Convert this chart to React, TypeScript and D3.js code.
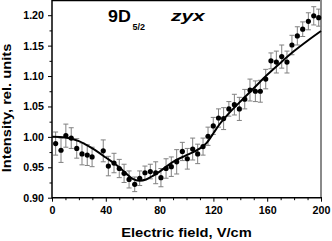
import React, { useEffect, useRef } from 'react';
import * as d3 from 'd3';

// measured points (electric field, V/cm)
const fieldValues = [
  2.7, 6.7, 10.3, 14.3, 18.4, 22.3, 26.2, 29.8, 38.1, 41.9,
  46.1, 50, 53.6, 57.3, 61.5, 65.2, 69.1, 73.1, 77.1, 81,
  84.8, 88.7, 92.7, 96.9, 100.6, 104.6, 108.3, 112.3, 116, 119.9,
  123.8, 127.6, 131.5, 135.6, 139.3, 143.3, 147.2, 151.2, 154.9, 158.9,
  162.8, 166.8, 170.8, 174.7, 178.4, 182.4, 186.4, 190.6, 194.6, 198.3,
];
const intensityValues = [
  0.989, 0.978, 1.002, 0.998, 0.981, 0.972, 0.970, 0.967, 0.977, 0.952,
  0.957, 0.948, 0.940, 0.930, 0.922, 0.932, 0.941, 0.943, 0.941, 0.933,
  0.948, 0.951, 0.959, 0.976, 0.964, 0.980, 0.972, 0.984, 1.001, 1.018,
  1.031, 1.030, 1.046, 1.053, 1.046, 1.062, 1.077, 1.075, 1.075, 1.095,
  1.125, 1.123, 1.132, 1.123, 1.151, 1.166, 1.177, 1.190, 1.199, 1.196,
];
const errorValues = [
  0.019, 0.020, 0.019, 0.017, 0.016, 0.018, 0.017, 0.016, 0.018, 0.016,
  0.016, 0.015, 0.015, 0.014, 0.012, 0.012, 0.011, 0.012, 0.018, 0.015,
  0.016, 0.016, 0.020, 0.015, 0.017, 0.018, 0.016, 0.014, 0.015, 0.014,
  0.015, 0.018, 0.012, 0.017, 0.019, 0.016, 0.018, 0.017, 0.018, 0.016,
  0.013, 0.018, 0.019, 0.018, 0.016, 0.015, 0.012, 0.014, 0.015, 0.014,
];

// theory curve
const curveField = [0, 10, 20, 30, 40, 50, 55, 60, 65, 70, 75, 80, 90, 100, 110, 115, 120, 125, 130, 140, 150, 160, 170, 180, 190, 200];
const curveIntensity = [
  1.000, 0.999, 0.993, 0.981, 0.966, 0.950, 0.940, 0.931, 0.928, 0.930,
  0.936, 0.943, 0.959, 0.970, 0.981, 0.990, 1.006, 1.022, 1.035, 1.058,
  1.080, 1.102, 1.122, 1.141, 1.158, 1.174,
];

const xMajorTicks = [0, 40, 80, 120, 160, 200];
const yMajorTicks = [0.90, 0.95, 1.00, 1.05, 1.10, 1.15, 1.20];

export default function App() {
  const ref = useRef<SVGSVGElement>(null);

  useEffect(() => {
    const svg = d3.select(ref.current);
    svg.selectAll('*').remove();

    const left = 52, right = 321, top = 0, bottom = 197.7;

    const x = d3.scaleLinear().domain([0, 200]).range([left, right]);
    const y = d3.scaleLinear().domain([0.90, 1.225]).range([bottom, top]);

    const font = '"Liberation Sans", Arial, sans-serif';

    // frame: top black, right gray
    svg.append('line')
      .attr('x1', left).attr('x2', right)
      .attr('y1', 0.5).attr('y2', 0.5)
      .attr('stroke', '#000').attr('stroke-width', 1.5);
    svg.append('line')
      .attr('x1', right).attr('x2', right)
      .attr('y1', 0).attr('y2', bottom)
      .attr('stroke', '#8a8a8a').attr('stroke-width', 2);

    // minor ticks
    const xMinor = d3.range(0, 201, 10).filter(v => !xMajorTicks.includes(v));
    const yMinor = d3.range(0.925, 1.22, 0.05);

    svg.append('g')
      .attr('transform', `translate(0,${bottom})`)
      .call(d3.axisBottom(x).tickValues(xMinor).tickSize(2.5).tickFormat(() => ''))
      .call(g => g.select('.domain').remove());
    svg.append('g')
      .attr('transform', `translate(${left},0)`)
      .call(d3.axisLeft(y).tickValues(yMinor).tickSize(2.5).tickFormat(() => ''))
      .call(g => g.select('.domain').remove());

    // major axes
    const xAxis = svg.append('g')
      .attr('transform', `translate(0,${bottom})`)
      .call(d3.axisBottom(x).tickValues(xMajorTicks).tickSize(4).tickPadding(5).tickFormat(d3.format('d')));
    const yAxis = svg.append('g')
      .attr('transform', `translate(${left},0)`)
      .call(d3.axisLeft(y).tickValues(yMajorTicks).tickSize(4).tickPadding(4).tickFormat(d3.format('.2f')));

    [xAxis, yAxis].forEach(a => {
      a.select('.domain').attr('stroke-width', 1.5).attr('d', null);
      a.selectAll('text')
        .attr('font-family', font)
        .attr('font-weight', 'bold')
        .attr('font-size', 10.7)
        .attr('fill', '#000');
    });
    svg.append('line')
      .attr('x1', left).attr('x2', right + 1)
      .attr('y1', bottom).attr('y2', bottom)
      .attr('stroke', '#000').attr('stroke-width', 1.5);
    svg.append('line')
      .attr('x1', left).attr('x2', left)
      .attr('y1', 0).attr('y2', bottom + 0.75)
      .attr('stroke', '#000').attr('stroke-width', 1.5);

    // error bars
    const pts = fieldValues.map((f, i) => ({ f, v: intensityValues[i], e: errorValues[i] }));
    const bars = svg.append('g').attr('stroke', '#808080').attr('stroke-width', 1);
    pts.forEach(p => {
      const px = x(p.f);
      bars.append('line').attr('x1', px).attr('x2', px).attr('y1', y(p.v - p.e)).attr('y2', y(p.v + p.e));
      bars.append('line').attr('x1', px - 2.5).attr('x2', px + 2.5).attr('y1', y(p.v - p.e)).attr('y2', y(p.v - p.e));
      bars.append('line').attr('x1', px - 2.5).attr('x2', px + 2.5).attr('y1', y(p.v + p.e)).attr('y2', y(p.v + p.e));
    });

    // theory curve
    const line = d3.line<number>()
      .x((_, i) => x(curveField[i]))
      .y(d => y(d))
      .curve(d3.curveMonotoneX);
    svg.append('path')
      .attr('d', line(curveIntensity))
      .attr('fill', 'none')
      .attr('stroke', '#000')
      .attr('stroke-width', 2);

    // points
    svg.append('g').selectAll('circle')
      .data(pts)
      .enter()
      .append('circle')
      .attr('cx', d => x(d.f))
      .attr('cy', d => y(d.v))
      .attr('r', 2.6)
      .attr('fill', '#000');

    // axis titles
    svg.append('text')
      .attr('transform', `translate(${(left + right) / 2},236.5) scale(1.13,1)`)
      .attr('text-anchor', 'middle')
      .attr('font-family', font)
      .attr('font-weight', 'bold')
      .attr('font-size', 13)
      .text('Electric field, V/cm');
    svg.append('text')
      .attr('transform', `translate(11,108) rotate(-90) scale(1.13,1)`)
      .attr('text-anchor', 'middle')
      .attr('font-family', font)
      .attr('font-weight', 'bold')
      .attr('font-size', 13)
      .text('Intensity, rel. units');

    // labels
    svg.append('text')
      .attr('transform', 'translate(108,21.5) scale(1.05,1)')
      .attr('font-family', font)
      .attr('font-weight', 'bold')
      .attr('font-size', 17)
      .text('9D');
    svg.append('text')
      .attr('transform', 'translate(132.5,29.5)')
      .attr('font-family', font)
      .attr('font-weight', 'bold')
      .attr('font-size', 9)
      .text('5/2');
    svg.append('text')
      .attr('transform', 'translate(171,21) scale(1.35,1)')
      .attr('font-family', font)
      .attr('font-weight', 'bold')
      .attr('font-style', 'italic')
      .attr('font-size', 15.5)
      .text('zyx');
  }, []);

  return (
    <svg ref={ref} width={332} height={241}
      style={{ position: 'absolute', left: 0, top: 0, background: '#fff' }} />
  );
}
